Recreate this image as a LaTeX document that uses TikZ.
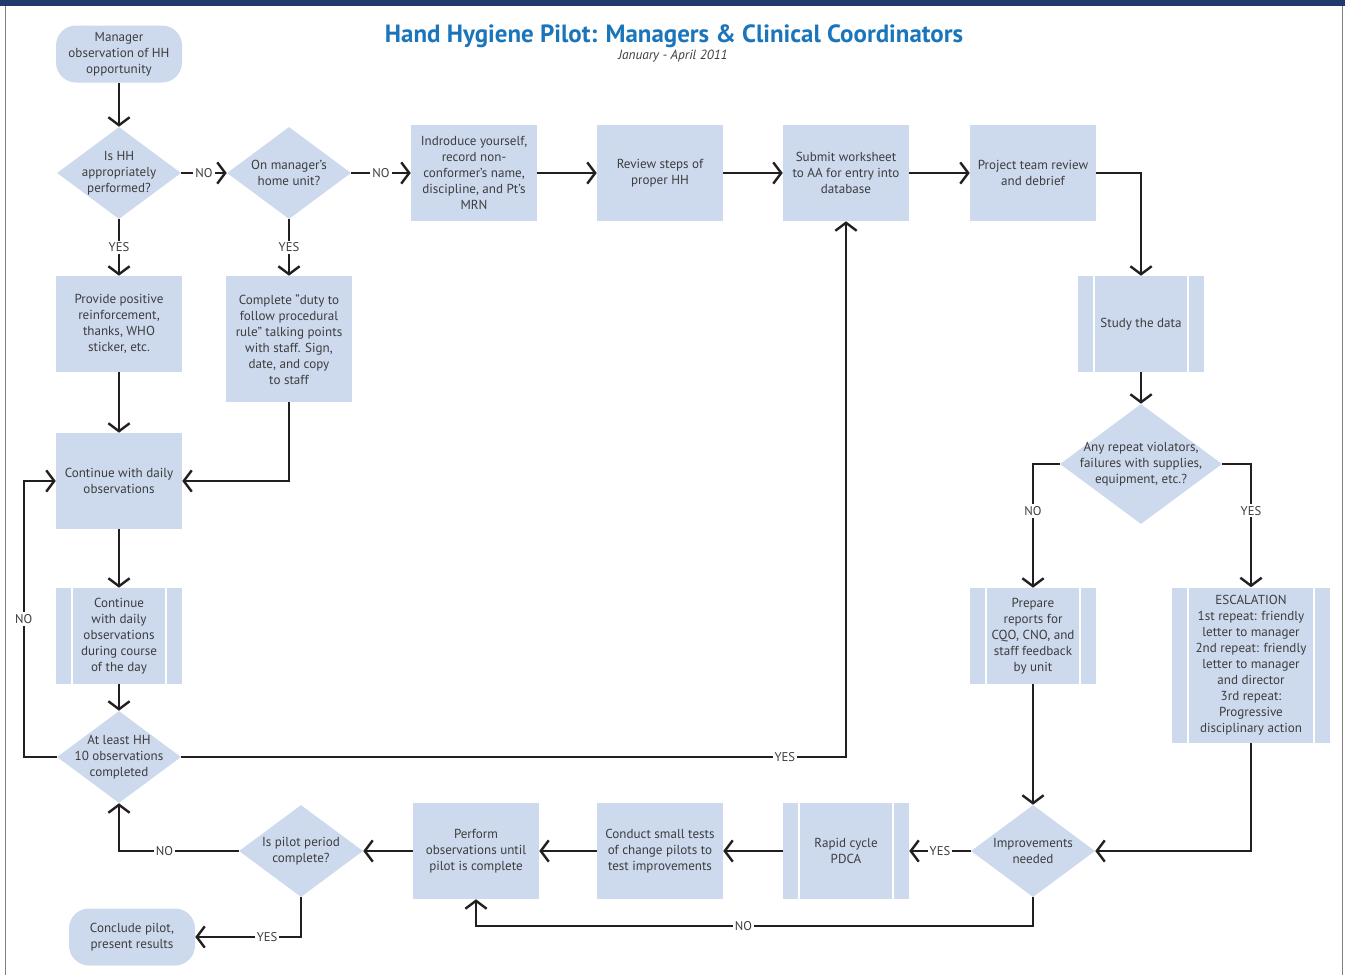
\documentclass[tikz,border=0pt]{standalone}
\usepackage{fontspec}
\setmainfont{PT Sans}
\usetikzlibrary{shapes.geometric,arrows.meta}

\definecolor{hhblue}{HTML}{CDDAEE}
\definecolor{hhline}{HTML}{231F20}
\definecolor{hhtext}{HTML}{3D3D3D}
\definecolor{hhtitle}{HTML}{1B75BB}
\definecolor{hhnavy}{HTML}{1F3A6B}

\tikzset{
  base/.style={fill=hhblue, text=hhtext, font=\fontsize{9.8}{12}\selectfont, align=center, inner sep=0pt},
  process/.style={base, rectangle, minimum width=94.5pt, minimum height=72pt},
  predef/.style={process, path picture={
      \draw[white, line width=1.5pt]
        ([xshift=12pt]path picture bounding box.north west) -- ([xshift=12pt]path picture bounding box.south west)
        ([xshift=-12pt]path picture bounding box.north east) -- ([xshift=-12pt]path picture bounding box.south east);}},
  terminal/.style={base, rectangle, rounded corners=15pt, minimum width=94.5pt, minimum height=42.75pt},
  decision/.style={base, diamond, minimum width=93pt, minimum height=69pt},
  dtext/.style={text=hhtext, font=\fontsize{9.8}{12}\selectfont, align=center},
  flow/.style={draw=hhline, line width=1.8pt, ->},
  tag/.style={fill=white, text=hhtext, font=\fontsize{9.5}{11}\selectfont, inner sep=1.5pt},
  >={Straight Barb[length=6pt,width=16pt]}
}

\begin{document}
\begin{tikzpicture}[x=0.75pt, y=-0.75pt]
    \useasboundingbox (0,0) rectangle (1345,975);
    % Frame
    \fill[hhnavy] (0,0) rectangle (1345,6);
    \draw[gray, line width=0.75pt] (5,6) -- (5,975) (1342,6) -- (1342,975);

    % Title
    \node[text=hhtitle, font=\bfseries\fontsize{18.7}{20}\selectfont] (title) at (674,36) {Hand Hygiene Pilot: Managers \& Clinical Coordinators};
    \node[text=hhtext, font=\itshape\fontsize{10}{11}\selectfont] (dates) at (673,56) {January - April 2011};

    % Left column
    \node[terminal] (start) at (119,54) {Manager\\observation of HH\\opportunity};
    \node[decision, label={[dtext]center:Is HH\\appropriately\\performed?}] (d1) at (119,173) {};
    \node[decision, label={[dtext]center:On manager’s\\home unit?}] (d2) at (289,173) {};
    \node[process] (praise) at (119,324) {Provide positive\\reinforcement,\\thanks, WHO\\sticker, etc.};
    \node[process, minimum height=94.5pt] (duty) at (289,339) {Complete “duty to\\follow procedural\\rule” talking points\\with staff. Sign,\\date, and copy\\to staff};
    \node[process] (daily) at (119,481) {Continue with daily\\observations};
    \node[predef] (course) at (119,636) {Continue\\with daily\\observations\\during course\\of the day};
    \node[decision, label={[dtext]center:At least HH\\10 observations\\completed}] (count) at (119,757) {};
    \node[terminal] (conclude) at (132,937) {Conclude pilot,\\present results};

    % Top row
    \node[process] (intro) at (474,173) {Indroduce yourself,\\record non-\\conformer’s name,\\discipline, and Pt’s\\MRN};
    \node[process] (review) at (660,173) {Review steps of\\proper HH};
    \node[process] (submit) at (846,173) {Submit worksheet\\to AA for entry into\\database};
    \node[process] (debrief) at (1033,173) {Project team review\\and debrief};

    % Right column
    \node[predef] (study) at (1141,324) {Study the data};
    \node[decision, minimum width=121.5pt, minimum height=90pt,
          label={[dtext]center:Any repeat violators,\\failures with supplies,\\equipment, etc.?}] (repeat) at (1141,464) {};
    \node[predef] (reports) at (1033,636) {Prepare\\reports for\\CQO, CNO, and\\staff feedback\\by unit};
    \node[predef, minimum width=118.5pt, minimum height=116.25pt] (escal) at (1251,665) {ESCALATION\\1st repeat: friendly\\letter to manager\\2nd repeat: friendly\\letter to manager\\and director\\3rd repeat:\\Progressive\\disciplinary action};

    % Bottom row
    \node[decision, label={[dtext]center:Improvements\\needed}] (improve) at (1033,851) {};
    \node[predef] (pdca) at (846,851) {Rapid cycle\\PDCA};
    \node[process] (tests) at (660,851) {Conduct small tests\\of change pilots to\\test improvements};
    \node[process] (perform) at (476,851) {Perform\\observations until\\pilot is complete};
    \node[decision, label={[dtext]center:Is pilot period\\complete?}] (pilot) at (301,851) {};

    % Connectors
    \draw[flow] (start) -- (d1);
    \draw[flow] (d1) -- node[tag] {NO} (d2);
    \draw[flow] (d2) -- node[tag] {NO} (intro);
    \draw[flow] (intro) -- (review);
    \draw[flow] (review) -- (submit);
    \draw[flow] (submit) -- (debrief);
    \draw[flow] (debrief.east) -| (study.north);
    \draw[flow] (study) -- (repeat);
    \draw[flow] (repeat.west) -| node[tag, pos=0.69] {NO} (reports.north);
    \draw[flow] (repeat.east) -| node[tag, pos=0.69] {YES} (escal.north);
    \draw[flow] (reports) -- (improve);
    \draw[flow] (escal.south) |- (improve.east);
    \draw[flow] (improve) -- node[tag] {YES} (pdca);
    \draw[flow] (pdca) -- (tests);
    \draw[flow] (tests) -- (perform);
    \draw[flow] (perform) -- (pilot);
    \draw[flow] (improve.south) -- ++(0,29) -| node[tag, pos=0.26] {NO} (perform.south);
    \draw[flow] (pilot.west) -| node[tag, pos=0.31] {NO} (count.south);
    \draw[flow] (pilot.south) |- node[tag, pos=0.66] {YES} (conclude.east);

    \draw[flow] (d1) -- node[tag] {YES} (praise);
    \draw[flow] (d2) -- node[tag] {YES} (duty);
    \draw[flow] (praise) -- (daily);
    \draw[flow] (duty.south) |- (daily.east);
    \draw[flow] (daily) -- (course);
    \draw[flow] (course) -- (count);
    \draw[flow] (count.east) -| node[tag, pos=0.454] {YES} (submit.south);
    \draw[flow] (count.west) -- ++(-33,0) |- node[tag, pos=0.25] {NO} (daily.west);
\end{tikzpicture}
\end{document}
